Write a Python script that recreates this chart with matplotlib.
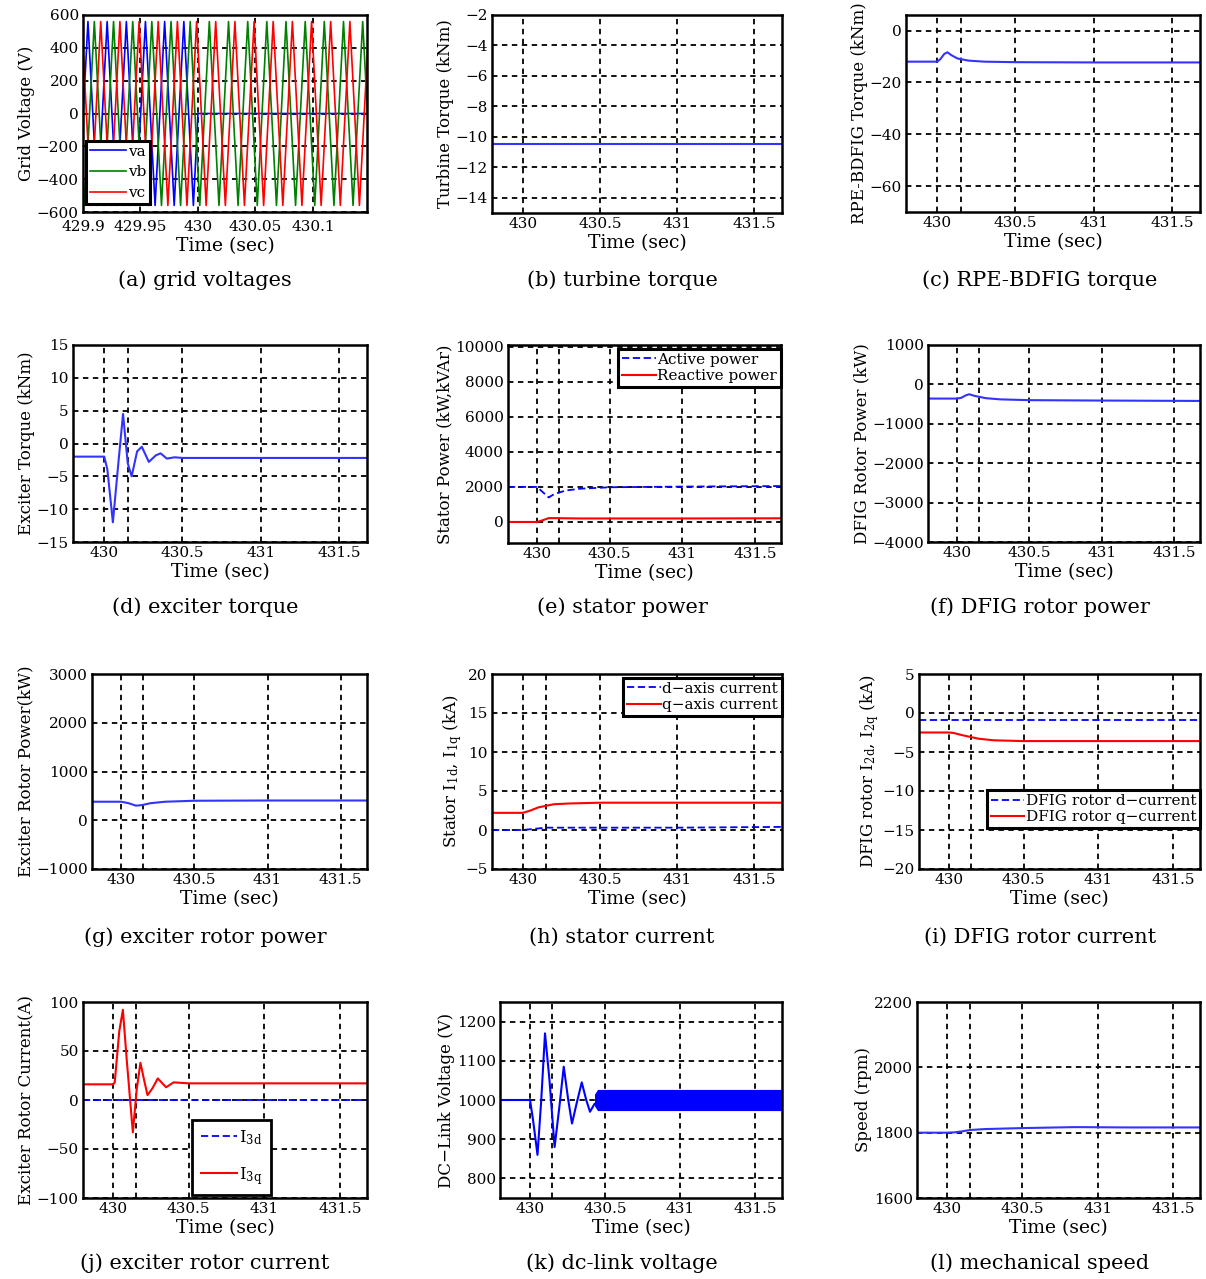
import numpy as np
import matplotlib.pyplot as plt

plt.rcParams['font.family'] = ['DejaVu Serif']
plt.rcParams['mathtext.fontset'] = 'dejavuserif'

# ---------------- data ----------------
# (a) grid voltages: extrema of va (sec, V); vb and vc follow with a phase lag
ext_t = [429.8877, 429.8960, 429.9043, 429.9127, 429.9210, 429.9293, 429.9377,
         429.9460, 429.9543, 429.9627, 429.9710, 429.9793, 429.9877, 429.9960,
         430.0043, 430.0127, 430.0210, 430.0293, 430.0377, 430.0460, 430.0543,
         430.0627, 430.0710, 430.0793, 430.0877, 430.0960, 430.1043, 430.1127,
         430.1210, 430.1293, 430.1377, 430.1460, 430.1543]
ext_v = [560, -560, 560, -560, 560, -560, 560, -560, 560, -560, 560, -560,
         560, -560, 560, -560, 560, -560, 560, -560, 560, -560, 560, -560,
         560, -560, 560, -560, 560, -560, 560, -560, 560]
phase_names = ['va', 'vb', 'vc']
phase_lag = [0.0, 0.00556, 0.01111]
fault_t = 430.0
clear_t = 430.15

# (b) turbine torque (kNm)
tt_t = [429.8, 431.7]
tt_v = [-10.5, -10.5]

# (c) RPE-BDFIG torque (kNm)
rpe_t = [429.8, 430.0, 430.02, 430.045, 430.065, 430.09, 430.13, 430.2, 430.3, 430.5, 431.0, 431.7]
rpe_v = [-12.0, -12.0, -11.0, -9.0, -8.4, -9.5, -10.8, -11.6, -12.0, -12.2, -12.3, -12.3]

# (d) exciter torque (kNm)
etq_t = [429.8, 430.0, 430.02, 430.055, 430.09, 430.12, 430.15, 430.175, 430.21,
         430.24, 430.285, 430.33, 430.36, 430.4, 430.45, 430.5, 431.7]
etq_v = [-2.0, -2.0, -4.0, -12.0, -3.0, 4.5, -3.0, -5.0, -1.2, -0.5, -2.8, -1.8,
         -1.5, -2.3, -2.1, -2.2, -2.2]

# (e) stator power (kW, kVAr)
sp_t = [429.8, 430.0, 430.04, 430.08, 430.12, 430.2, 430.3, 430.5, 431.0, 431.7]
sp_p = [2000, 2000, 1700, 1400, 1600, 1800, 1900, 1980, 2020, 2050]
sp_q = [0, 0, 100, 220, 220, 210, 200, 200, 200, 210]

# (f) DFIG rotor power (kW)
dp_t = [429.8, 430.0, 430.03, 430.06, 430.085, 430.12, 430.2, 430.3, 430.5, 431.0, 431.7]
dp_v = [-360, -360, -340, -280, -250, -290, -350, -380, -400, -410, -420]

# (g) exciter rotor power (kW)
ep_t = [429.8, 430.0, 430.05, 430.1, 430.14, 430.2, 430.3, 430.5, 431.0, 431.7]
ep_v = [380, 380, 350, 300, 310, 350, 380, 400, 405, 405]

# (h) stator current (kA)
sc_t = [429.8, 430.0, 430.05, 430.1, 430.15, 430.2, 430.3, 430.5, 431.0, 431.7]
sc_d = [0.0, 0.0, 0.1, 0.2, 0.3, 0.3, 0.3, 0.3, 0.3, 0.4]
sc_q = [2.2, 2.2, 2.5, 2.9, 3.1, 3.3, 3.4, 3.5, 3.5, 3.5]

# (i) DFIG rotor current (kA)
rc_t = [429.8, 430.0, 430.03, 430.08, 430.15, 430.2, 430.3, 430.5, 431.0, 431.7]
rc_d = [-0.9, -0.9, -0.9, -0.9, -0.9, -0.9, -0.9, -0.9, -0.9, -0.9]
rc_q = [-2.5, -2.5, -2.55, -2.8, -3.1, -3.3, -3.5, -3.6, -3.6, -3.6]

# (j) exciter rotor current (A)
xc_t = [429.8, 430.0, 430.01, 430.04, 430.064, 430.09, 430.13, 430.155, 430.18,
        430.205, 430.227, 430.26, 430.295, 430.35, 430.4, 430.5, 431.7]
xc_q = [16, 16, 18, 70, 92, 40, -33, 10, 38, 20, 5, 12, 22, 13, 18, 17, 17]
xc_d_t = [429.8, 431.7]
xc_d = [0, 0]

# (k) dc-link voltage (V): transient, then a fast ripple band
dc_t = [429.8, 430.0, 430.02, 430.05, 430.075, 430.1, 430.13, 430.164, 430.195,
        430.225, 430.255, 430.28, 430.31, 430.345, 430.375, 430.4, 430.43]
dc_v = [1000, 1000, 950, 860, 1000, 1170, 1050, 880, 980, 1085, 1000, 940, 990,
        1045, 1000, 970, 990]
band_t = [430.43, 430.45, 431.7]
band_lo = [985, 973, 973]
band_hi = [1015, 1027, 1027]

# (l) mechanical speed (rpm)
spd_t = [429.8, 430.0, 430.05, 430.1, 430.15, 430.25, 430.5, 430.85, 431.2, 431.7]
spd_v = [1800, 1800, 1801, 1804, 1808, 1811, 1814, 1817, 1816, 1816]

captions = ['(a) grid voltages', '(b) turbine torque', '(c) RPE-BDFIG torque',
            '(d) exciter torque', '(e) stator power', '(f) DFIG rotor power',
            '(g) exciter rotor power', '(h) stator current', '(i) DFIG rotor current',
            '(j) exciter rotor current', '(k) dc-link voltage', '(l) mechanical speed']
ylabels = ['Grid Voltage (V)', 'Turbine Torque (kNm)', 'RPE-BDFIG Torque (kNm)',
           'Exciter Torque (kNm)', 'Stator Power (kW,kVAr)', 'DFIG Rotor Power (kW)',
           'Exciter Rotor Power(kW)', r'Stator I$_{\rm 1d}$, I$_{\rm 1q}$ (kA)',
           r'DFIG rotor I$_{\rm 2d}$, I$_{\rm 2q}$ (kA)', 'Exciter Rotor Current(A)',
           'DC\u2212Link Voltage (V)', 'Speed (rpm)']

# ---------------- layout (pixels: left, right, top, bottom) ----------------
W, H = 1206, 1279
boxes = [(83, 367, 15, 212), (492, 782, 15, 213), (906, 1200, 15, 212),
         (73, 367, 345, 542), (508, 781, 345, 543), (928, 1200, 345, 542),
         (92, 367, 674, 869), (492, 782, 674, 869), (919, 1200, 674, 869),
         (83, 367, 1002, 1198), (500, 782, 1002, 1198), (917, 1200, 1002, 1198)]
cap_y = [280, 607, 937, 1263]
cap_x = [205, 622, 1040]

fig = plt.figure(figsize=(W / 100, H / 100), dpi=100)
axs = []
for l, r, t, b in boxes:
    axs.append(fig.add_axes([l / W, 1 - b / H, (r - l) / W, (b - t) / H]))

for i, ax in enumerate(axs):
    ax.grid(True, color='black', linestyle=(0, (3, 2.5)), linewidth=1.3)
    ax.set_axisbelow(True)
    for s in ax.spines.values():
        s.set_linewidth(1.8)
        s.set_zorder(3)
    ax.tick_params(direction='in', length=0, labelsize=11, pad=3)
    ax.set_xlabel('Time (sec)', fontsize=13.5, labelpad=2)
    ax.set_ylabel(ylabels[i], fontsize=12, labelpad=1)
    if i > 0:
        ax.set_xlim(429.8, 431.68)
        ax.set_xticks([430, 430.5, 431, 431.5], ['430', '430.5', '431', '431.5'])
    if i > 1:
        ax.axvline(clear_t, color='black', linestyle=(0, (3, 2.5)), linewidth=1.3, zorder=1)
    fig.text(cap_x[i % 3] / W, 1 - cap_y[i // 3] / H, captions[i], fontsize=15,
             ha='center', va='center')

leg_kw = dict(fancybox=False, edgecolor='black', framealpha=1, borderpad=0.25,
              handletextpad=0.1, borderaxespad=0)

# (a)
ax = axs[0]
colors = ['#0000ff', '#008000', '#ff0000']
for k in range(3):
    t = [x + phase_lag[k] for x in ext_t]
    v = list(ext_v)
    if k == 0:
        keep = [j for j in range(len(t)) if t[j] < fault_t]
        t = [t[j] for j in keep] + [fault_t, 430.16]
        v = [v[j] for j in keep] + [0, 0]
    ax.plot(t, v, color=colors[k], lw=1.2, label=phase_names[k])
ax.set_xlim(429.9, 430.147)
ax.set_xticks([429.9, 429.95, 430, 430.05, 430.1], ['429.9', '429.95', '430', '430.05', '430.1'])
ax.tick_params(axis='x', pad=6)
ax.set_ylim(-600, 600)
ax.set_yticks(range(-600, 601, 200))
lg = ax.legend(loc='lower left', bbox_to_anchor=(0.01, 0.04), fontsize=11,
               handlelength=2.4, labelspacing=0.45, **leg_kw)
lg.get_frame().set_linewidth(2.2)

# (b)
ax = axs[1]
ax.plot(tt_t, tt_v, color='#3333ff', lw=1.5)
ax.set_ylim(-15, -2)
ax.set_yticks(range(-14, -1, 2))

# (c)
ax = axs[2]
ax.plot(rpe_t, rpe_v, color='#3333ff', lw=1.5)
ax.set_ylim(-70, 6)
ax.set_yticks([0, -20, -40, -60])

# (d)
ax = axs[3]
ax.plot(etq_t, etq_v, color='#3333ff', lw=1.5)
ax.set_ylim(-15, 15)
ax.set_yticks(range(-15, 16, 5))

# (e)
ax = axs[4]
ax.plot(sp_t, sp_p, color='#0000ff', lw=1.3, linestyle=(0, (4, 2)), label='Active power')
ax.plot(sp_t, sp_q, color='#ff0000', lw=1.5, label='Reactive power')
ax.set_ylim(-1200, 10100)
ax.set_yticks(range(0, 10001, 2000))
lg = ax.legend(loc='upper right', bbox_to_anchor=(1.0, 0.98), fontsize=11,
               handlelength=2.2, labelspacing=0.15, **leg_kw)
lg.get_frame().set_linewidth(2.2)

# (f)
ax = axs[5]
ax.plot(dp_t, dp_v, color='#3333ff', lw=1.5)
ax.set_ylim(-4000, 1000)
ax.set_yticks(range(-4000, 1001, 1000))

# (g)
ax = axs[6]
ax.plot(ep_t, ep_v, color='#3333ff', lw=1.5)
ax.set_ylim(-1000, 3000)
ax.set_yticks(range(-1000, 3001, 1000))

# (h)
ax = axs[7]
ax.plot(sc_t, sc_d, color='#0000ff', lw=1.3, linestyle=(0, (4, 2)), label='d\u2212axis current')
ax.plot(sc_t, sc_q, color='#ff0000', lw=1.5, label='q\u2212axis current')
ax.set_ylim(-5, 20)
ax.set_yticks(range(-5, 21, 5))
lg = ax.legend(loc='upper right', bbox_to_anchor=(1.0, 0.98), fontsize=11,
               handlelength=2.2, labelspacing=0.15, **leg_kw)
lg.get_frame().set_linewidth(2.2)

# (i)
ax = axs[8]
ax.plot(rc_t, rc_d, color='#0000ff', lw=1.3, linestyle=(0, (4, 2)), label='DFIG rotor d\u2212current')
ax.plot(rc_t, rc_q, color='#ff0000', lw=1.5, label='DFIG rotor q\u2212current')
ax.set_ylim(-20, 5)
ax.set_yticks(range(-20, 6, 5))
lg = ax.legend(loc='lower right', bbox_to_anchor=(1.0, 0.21), fontsize=11,
               handlelength=2.2, labelspacing=0.15, **leg_kw)
lg.get_frame().set_linewidth(2.2)

# (j)
ax = axs[9]
ax.plot(xc_d_t, xc_d, color='#0000ff', lw=1.3, linestyle=(0, (4, 2)), label=r'I$_{\rm 3d}$')
ax.plot(xc_t, xc_q, color='#ff0000', lw=1.5, label=r'I$_{\rm 3q}$')
ax.set_ylim(-100, 100)
ax.set_yticks(range(-100, 101, 50))
lg = ax.legend(loc='upper left', bbox_to_anchor=(0.385, 0.40), fontsize=12,
               handlelength=2.2, fancybox=False, edgecolor='black', framealpha=1,
               borderpad=0.5, handletextpad=0.1, labelspacing=1.1, borderaxespad=0)
lg.get_frame().set_linewidth(2.0)

# (k)
ax = axs[10]
ax.plot(dc_t, dc_v, color='#0000ff', lw=1.5)
ax.fill_between(band_t, band_lo, band_hi, color='#0000ff', lw=0)
ax.set_ylim(750, 1250)
ax.set_yticks(range(800, 1201, 100))

# (l)
ax = axs[11]
ax.plot(spd_t, spd_v, color='#3333ff', lw=1.5)
ax.set_ylim(1600, 2200)
ax.set_yticks(range(1600, 2201, 200))

fig.savefig('out.png', dpi=100)
